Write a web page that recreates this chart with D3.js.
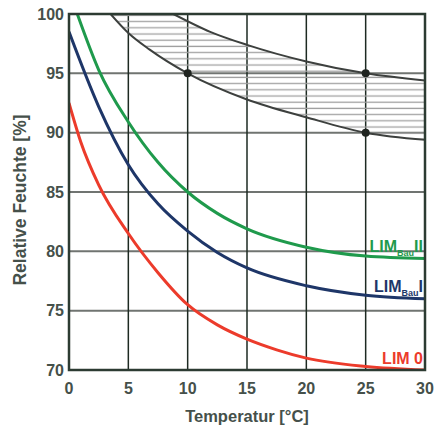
<!DOCTYPE html>
<html>
<head>
<meta charset="utf-8">
<script src="https://cdn.jsdelivr.net/npm/d3@7"></script>
<style>
  body { margin: 0; background: #fff; }
  text { font-family: "Liberation Sans", Arial, sans-serif; font-weight: bold; }
</style>
</head>
<body>
<div id="chart"></div>
<script>
// curve data: [temperature, rel. humidity]
const lim0 = [[0, 92.5], [1, 89.2], [2.5, 85.6], [5, 81.5], [7.5, 78.2], [10, 75.5], [12.5, 73.8], [15, 72.6], [17.5, 71.7], [20, 71.0], [25, 70.3], [30, 70.0]];
const limBauI = [[0, 98.5], [2.5, 92.2], [5, 87.3], [7.5, 84.0], [10, 81.7], [12.5, 79.9], [15, 78.6], [20, 77.1], [25, 76.3], [30, 76.0]];
const limBauII = [[0.7, 100], [2.5, 95.3], [5, 90.9], [7.5, 87.5], [10, 85.0], [12.5, 83.2], [15, 81.9], [20, 80.35], [25, 79.6], [30, 79.4]];
const grayLower = [[3.5, 100], [5, 98.4], [6.8, 97.0], [10, 95], [15, 92.8], [20, 91.3], [25, 90], [30, 89.4]];
const grayUpper = [[8.8, 100], [11.9, 98.5], [15, 97.4], [20, 96.0], [25, 95], [30, 94.4]];
const markers = [[10, 95], [25, 95], [25, 90]];

const xTicks = [0, 5, 10, 15, 20, 25, 30];
const yTicks = [70, 75, 80, 85, 90, 95, 100];

function drawChart() {
  const width = 434;
  const height = 426;
  const margin = { top: 14, right: 9, bottom: 56, left: 69 };

  const x = d3.scaleLinear().domain([0, 30]).range([margin.left, width - margin.right]);
  const y = d3.scaleLinear().domain([70, 100]).range([height - margin.bottom, margin.top]);

  const svg = d3.select("#chart").append("svg")
    .attr("width", width)
    .attr("height", height);

  const line = d3.line()
    .x((d) => x(d[0]))
    .y((d) => y(d[1]))
    .curve(d3.curveMonotoneX);

  const defs = svg.append("defs");
  const pat = defs.append("pattern")
    .attr("id", "hatch")
    .attr("patternUnits", "userSpaceOnUse")
    .attr("width", 12)
    .attr("height", 6.2);
  pat.append("line")
    .attr("x1", 0).attr("x2", 12)
    .attr("y1", 3).attr("y2", 3)
    .attr("stroke", "#a0a0a0")
    .attr("stroke-width", 1.3);

  defs.append("clipPath").attr("id", "plotclip")
    .append("rect")
    .attr("x", x(0)).attr("y", y(100))
    .attr("width", x(30) - x(0)).attr("height", y(70) - y(100));

  // region below the upper gray curve
  const last = grayUpper[grayUpper.length - 1];
  defs.append("clipPath").attr("id", "belowupper")
    .append("path")
    .attr("d", line(grayUpper) + "L" + x(last[0]) + "," + y(70) + "L" + x(0) + "," + y(70) +
      "L" + x(0) + "," + y(100) + "Z");

  // grid
  svg.append("g")
    .selectAll("line")
    .data(yTicks.slice(1, -1))
    .join("line")
    .attr("x1", x(0)).attr("x2", x(30))
    .attr("y1", (d) => y(d)).attr("y2", (d) => y(d))
    .attr("stroke", "#707471")
    .attr("stroke-width", 2);

  svg.append("g")
    .selectAll("line")
    .data(xTicks.slice(1, -1))
    .join("line")
    .attr("x1", (d) => x(d)).attr("x2", (d) => x(d))
    .attr("y1", y(100)).attr("y2", y(70))
    .attr("stroke", "#1d2a22")
    .attr("stroke-width", 1.5);

  // hatched band between the gray curves
  const lastLow = grayLower[grayLower.length - 1];
  const aboveLower = line(grayLower) + "L" + x(lastLow[0]) + "," + y(100) + "L" + x(grayLower[0][0]) + "," + y(100) + "Z";

  const plot = svg.append("g").attr("clip-path", "url(#plotclip)");
  plot.append("g")
    .attr("clip-path", "url(#belowupper)")
    .append("path")
    .attr("d", aboveLower)
    .attr("fill", "url(#hatch)");

  plot.selectAll(".gray")
    .data([grayLower, grayUpper])
    .join("path")
    .attr("class", "gray")
    .attr("d", line)
    .attr("fill", "none")
    .attr("stroke", "#3d403e")
    .attr("stroke-width", 2);

  const series = [
    { data: lim0, color: "#ec3b2b" },
    { data: limBauI, color: "#1e3668" },
    { data: limBauII, color: "#1f9a4c" }
  ];
  plot.selectAll(".lim")
    .data(series)
    .join("path")
    .attr("class", "lim")
    .attr("d", (d) => line(d.data))
    .attr("fill", "none")
    .attr("stroke", (d) => d.color)
    .attr("stroke-width", 3);

  svg.append("g")
    .selectAll("circle")
    .data(markers)
    .join("circle")
    .attr("cx", (d) => x(d[0]))
    .attr("cy", (d) => y(d[1]))
    .attr("r", 4)
    .attr("fill", "#1f2420");

  // frame
  svg.append("rect")
    .attr("x", x(0)).attr("y", y(100))
    .attr("width", x(30) - x(0)).attr("height", y(70) - y(100))
    .attr("fill", "none")
    .attr("stroke", "#2c3b32")
    .attr("stroke-width", 2.5);

  // tick labels
  const tickColor = "#45504a";
  svg.append("g")
    .selectAll("text")
    .data(yTicks)
    .join("text")
    .attr("x", x(0) - 5)
    .attr("y", (d) => y(d))
    .attr("dy", "0.36em")
    .attr("text-anchor", "end")
    .attr("font-size", 16)
    .attr("fill", tickColor)
    .text((d) => d);

  svg.append("g")
    .selectAll("text")
    .data(xTicks)
    .join("text")
    .attr("x", (d) => x(d))
    .attr("y", 394)
    .attr("text-anchor", "middle")
    .attr("font-size", 16)
    .attr("fill", tickColor)
    .text((d) => d);

  svg.append("text")
    .attr("x", (x(0) + x(30)) / 2)
    .attr("y", 422)
    .attr("text-anchor", "middle")
    .attr("font-size", 16.5)
    .attr("fill", tickColor)
    .text("Temperatur [°C]");

  svg.append("text")
    .attr("transform", "translate(26," + 200 + ") rotate(-90)")
    .attr("text-anchor", "middle")
    .attr("font-size", 17.5)
    .attr("fill", tickColor)
    .text("Relative Feuchte [%]");

  // curve labels
  const labels = [
    { main: "LIM", sub: "Bau", tail: "II", y: 252, color: "#1f9a4c" },
    { main: "LIM", sub: "Bau", tail: "I", y: 292, color: "#1e3668" },
    { main: "LIM 0", sub: null, tail: null, y: 364, color: "#ec3b2b" }
  ];
  labels.forEach((l) => {
    const t = svg.append("text")
      .attr("x", 423)
      .attr("y", l.y)
      .attr("text-anchor", "end")
      .attr("font-size", 16)
      .attr("fill", l.color);
    t.append("tspan").text(l.main);
    if (l.sub) {
      t.append("tspan").attr("font-size", 9).attr("dy", 4).text(l.sub);
      t.append("tspan").attr("dy", -4).text(l.tail);
    }
  });
}

window.onload = function () {
  drawChart();
};
</script>
</body>
</html>
